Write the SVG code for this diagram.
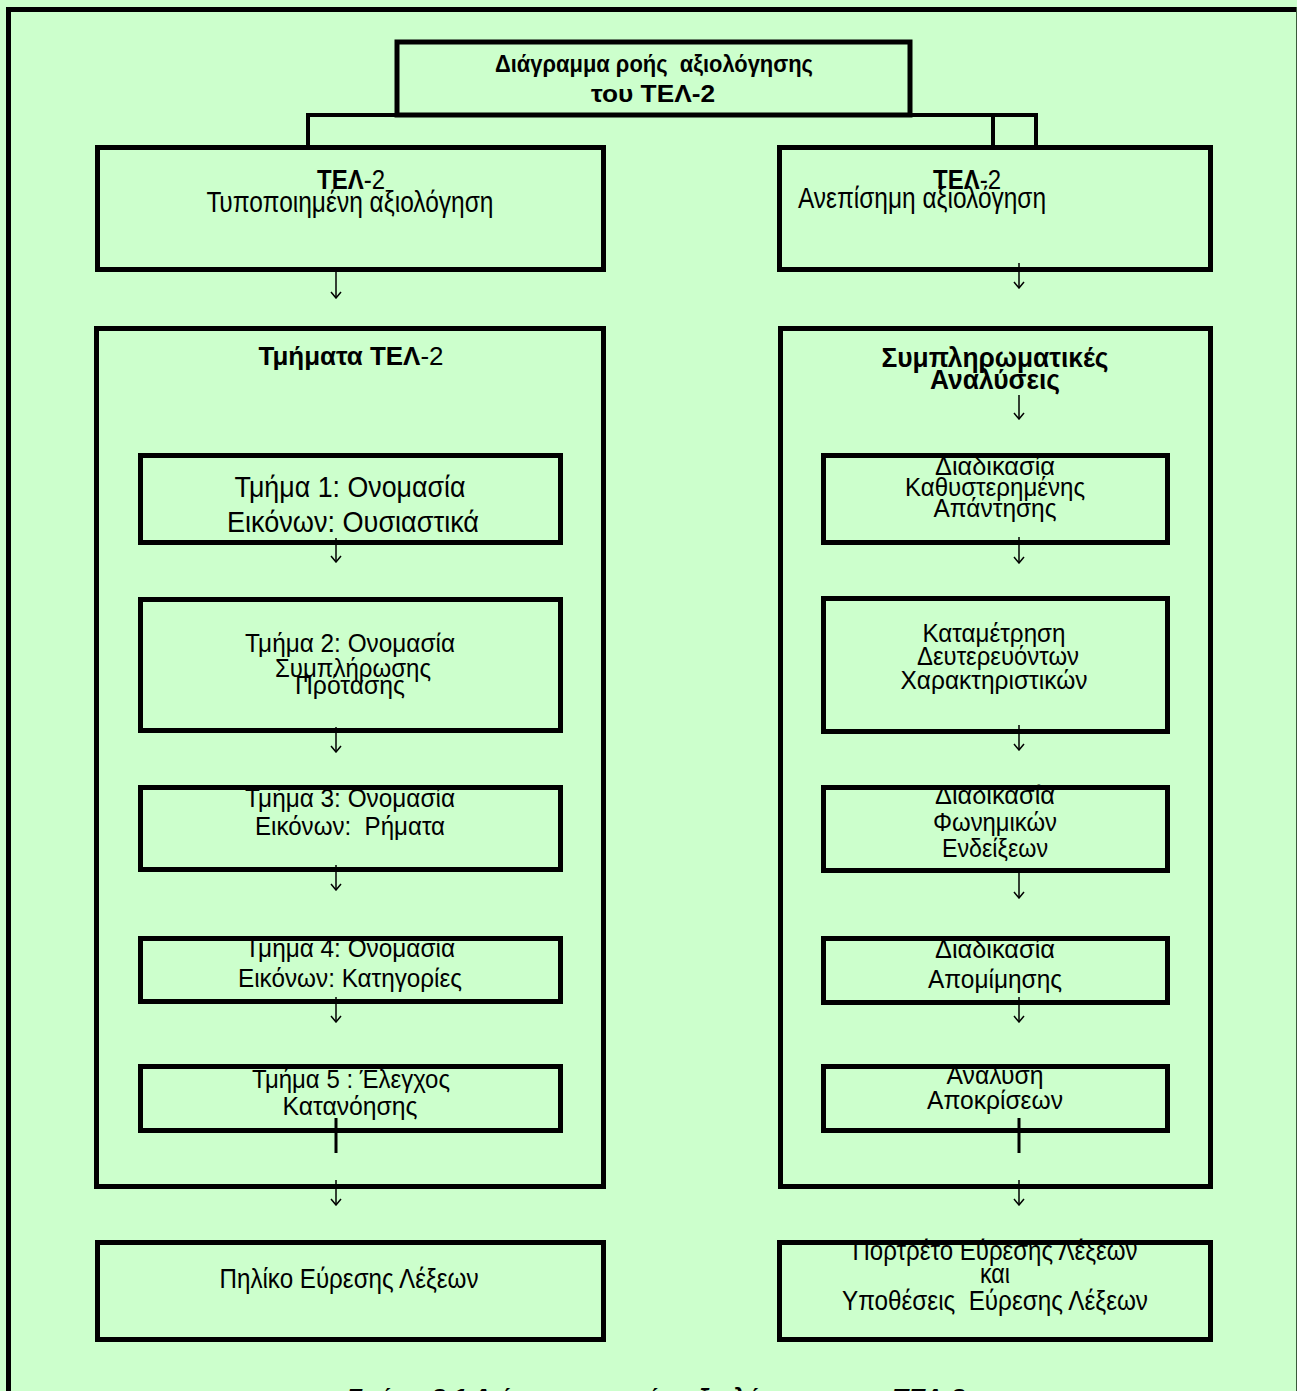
<svg xmlns="http://www.w3.org/2000/svg" width="1297" height="1391" viewBox="0 0 1297 1391">
<style>
text{font-family:"Liberation Sans","Noto Sans",Arial,sans-serif;fill:#000;text-anchor:middle}
.b{font-weight:bold}
.n{font-weight:normal}
.box{fill:none;stroke:#000;stroke-width:5}
.c{stroke:#000;stroke-width:1.5;fill:none}
.t{stroke:#000;stroke-width:3;fill:none}
.f24{font-size:26px}
.f26{font-size:28px}
.f27{font-size:29px}
</style>
<defs>
<marker id="ah" viewBox="0 0 10 12" refX="9" refY="6" markerWidth="10" markerHeight="12" markerUnits="userSpaceOnUse" orient="auto">
<polyline points="3,1 9,6 3,11" fill="none" stroke="#000" stroke-width="1.5"/>
</marker>
</defs>
<rect x="0" y="0" width="1297" height="1391" fill="#CCFFCC"/>
<g id="frame">
<path d="M8.5,1391 V9.5 H1297" fill="none" stroke="#000" stroke-width="5"/>
<line x1="1296.5" y1="7" x2="1296.5" y2="1391" stroke="#3a5a3a" stroke-width="1"/>
</g>

<g id="title">
<text class="b" x="654" y="72" font-size="23" textLength="318" lengthAdjust="spacingAndGlyphs" xml:space="preserve">Διάγραμμα ροής  αξιολόγησης</text>
<text class="b" x="653" y="102" font-size="23" textLength="124" lengthAdjust="spacingAndGlyphs">του ΤΕΛ-2</text>
<rect class="box" x="397" y="42" width="513" height="73" stroke-width="4"/>
</g>

<g id="standard">
<text class="b f26" x="351" y="189" textLength="68" lengthAdjust="spacingAndGlyphs">ΤΕΛ<tspan class="n">-2</tspan></text>
<text class="f27" x="350" y="212" textLength="287" lengthAdjust="spacingAndGlyphs">Τυποποιημένη αξιολόγηση</text>
<rect class="box" x="97.5" y="147.5" width="506" height="122"/>
</g>

<g id="informal">
<text class="b f26" x="967" y="189" textLength="68" lengthAdjust="spacingAndGlyphs">ΤΕΛ<tspan class="n">-2</tspan></text>
<text class="f27" x="922" y="208" textLength="248" lengthAdjust="spacingAndGlyphs">Ανεπίσημη αξιολόγηση</text>
<rect class="box" x="779.5" y="147.5" width="431" height="122"/>
</g>

<g id="sections">
<text class="b" x="351" y="365" font-size="26" textLength="185" lengthAdjust="spacingAndGlyphs">Τμήματα ΤΕΛ<tspan class="n">-2</tspan></text>
<rect class="box" x="96.5" y="328.5" width="507" height="858"/>
</g>

<g id="supplementary">
<text class="b" font-size="28" x="995" y="367" textLength="227" lengthAdjust="spacingAndGlyphs">Συμπληρωματικές</text>
<text class="b" font-size="28" x="995" y="389" textLength="130" lengthAdjust="spacingAndGlyphs">Αναλύσεις</text>
<rect class="box" x="780.5" y="328.5" width="430" height="858"/>
</g>

<g id="part1">
<text class="f27" x="350" y="497" textLength="231" lengthAdjust="spacingAndGlyphs">Τμήμα 1: Ονομασία</text>
<text class="f27" x="353" y="532" textLength="252" lengthAdjust="spacingAndGlyphs">Εικόνων: Ουσιαστικά</text>
<rect class="box" x="140.5" y="455.5" width="420" height="87"/>
</g>

<g id="part2">
<text class="f24" x="350" y="652" textLength="210" lengthAdjust="spacingAndGlyphs">Τμήμα 2: Ονομασία</text>
<text class="f24" x="353" y="677" textLength="156" lengthAdjust="spacingAndGlyphs">Συμπλήρωσης</text>
<text class="f24" x="350" y="694" textLength="110" lengthAdjust="spacingAndGlyphs">Πρότασης</text>
<rect class="box" x="140.5" y="599.5" width="420" height="131"/>
</g>

<g id="part3">
<text class="f24" x="350" y="807" textLength="210" lengthAdjust="spacingAndGlyphs">Τμήμα 3: Ονομασία</text>
<text class="f24" x="350" y="835" textLength="190" lengthAdjust="spacingAndGlyphs" xml:space="preserve">Εικόνων:  Ρήματα</text>
<rect class="box" x="140.5" y="787.5" width="420" height="82"/>
</g>

<g id="part4">
<text class="f24" x="350" y="957" textLength="210" lengthAdjust="spacingAndGlyphs">Τμήμα 4: Ονομασία</text>
<text class="f24" x="350" y="987" textLength="224" lengthAdjust="spacingAndGlyphs">Εικόνων: Κατηγορίες</text>
<rect class="box" x="140.5" y="938.5" width="420" height="63"/>
</g>

<g id="part5">
<text class="f24" x="351" y="1088" textLength="198" lengthAdjust="spacingAndGlyphs">Τμήμα 5 : Έλεγχος</text>
<text class="f24" x="350" y="1115" textLength="135" lengthAdjust="spacingAndGlyphs">Κατανόησης</text>
<rect class="box" x="140.5" y="1066.5" width="420" height="64"/>
</g>

<g id="delayed">
<text class="f24" x="995" y="475" textLength="120" lengthAdjust="spacingAndGlyphs">Διαδικασία</text>
<text class="f24" x="995" y="496" textLength="180" lengthAdjust="spacingAndGlyphs">Καθυστερημένης</text>
<text class="f24" x="995" y="517" textLength="123" lengthAdjust="spacingAndGlyphs">Απάντησης</text>
<rect class="box" x="823.5" y="455.5" width="344" height="87"/>
</g>

<g id="secondary">
<text class="f24" x="994" y="642" textLength="143" lengthAdjust="spacingAndGlyphs">Καταμέτρηση</text>
<text class="f24" x="998" y="665" textLength="162" lengthAdjust="spacingAndGlyphs">Δευτερευόντων</text>
<text class="f24" x="994" y="689" textLength="187" lengthAdjust="spacingAndGlyphs">Χαρακτηριστικών</text>
<rect class="box" x="823.5" y="598.5" width="344" height="133"/>
</g>

<g id="phonemic">
<text class="f24" x="995" y="804" textLength="120" lengthAdjust="spacingAndGlyphs">Διαδικασία</text>
<text class="f24" x="995" y="831" textLength="124" lengthAdjust="spacingAndGlyphs">Φωνημικών</text>
<text class="f24" x="995" y="857" textLength="106" lengthAdjust="spacingAndGlyphs">Ενδείξεων</text>
<rect class="box" x="823.5" y="787.5" width="344" height="83"/>
</g>

<g id="imitation">
<text class="f24" x="995" y="958" textLength="120" lengthAdjust="spacingAndGlyphs">Διαδικασία</text>
<text class="f24" x="995" y="988" textLength="134" lengthAdjust="spacingAndGlyphs">Απομίμησης</text>
<rect class="box" x="823.5" y="938.5" width="344" height="64"/>
</g>

<g id="responses">
<text class="f24" x="995" y="1084" textLength="97" lengthAdjust="spacingAndGlyphs">Ανάλυση</text>
<text class="f24" x="995" y="1109" textLength="136" lengthAdjust="spacingAndGlyphs">Αποκρίσεων</text>
<rect class="box" x="823.5" y="1066.5" width="344" height="64"/>
</g>

<g id="quotient">
<text class="f26" x="349" y="1288" textLength="259" lengthAdjust="spacingAndGlyphs">Πηλίκο Εύρεσης Λέξεων</text>
<rect class="box" x="97.5" y="1242.5" width="506" height="97"/>
</g>

<g id="portrait">
<text class="f26" x="995" y="1260" textLength="285" lengthAdjust="spacingAndGlyphs">Πορτρέτο Εύρεσης Λέξεων</text>
<text class="f26" x="995" y="1283" textLength="30" lengthAdjust="spacingAndGlyphs">και</text>
<text class="f26" x="995" y="1310" textLength="306" lengthAdjust="spacingAndGlyphs" xml:space="preserve">Υποθέσεις  Εύρεσης Λέξεων</text>
<rect class="box" x="779.5" y="1242.5" width="431" height="97"/>
</g>

<g id="connectors">
<path d="M308,147 V115 H1036 V147 M993,115 V147" fill="none" stroke="#000" stroke-width="4"/>
<line class="c" x1="336" y1="272" x2="336" y2="298" marker-end="url(#ah)"/>
<line class="c" x1="1019" y1="263" x2="1019" y2="288" marker-end="url(#ah)"/>
<line class="c" x1="1019" y1="395" x2="1019" y2="419" marker-end="url(#ah)"/>
<line class="c" x1="336" y1="538" x2="336" y2="562" marker-end="url(#ah)"/>
<line class="c" x1="336" y1="727" x2="336" y2="752" marker-end="url(#ah)"/>
<line class="c" x1="336" y1="865" x2="336" y2="890" marker-end="url(#ah)"/>
<line class="c" x1="336" y1="997" x2="336" y2="1022" marker-end="url(#ah)"/>
<line class="t" x1="336" y1="1118" x2="336" y2="1153"/>
<line class="c" x1="336" y1="1180" x2="336" y2="1205" marker-end="url(#ah)"/>
<line class="c" x1="1019" y1="537" x2="1019" y2="563" marker-end="url(#ah)"/>
<line class="c" x1="1019" y1="725" x2="1019" y2="750" marker-end="url(#ah)"/>
<line class="c" x1="1019" y1="873" x2="1019" y2="898" marker-end="url(#ah)"/>
<line class="c" x1="1019" y1="997" x2="1019" y2="1022" marker-end="url(#ah)"/>
<line class="t" x1="1019" y1="1118" x2="1019" y2="1153"/>
<line class="c" x1="1019" y1="1180" x2="1019" y2="1205" marker-end="url(#ah)"/>
</g>

<text class="b" x="347" y="1404" font-size="22" font-style="italic" style="text-anchor:start" textLength="618" lengthAdjust="spacingAndGlyphs">Σχήμα 2.1 Διάγραμμα ροής αξιολόγησης του ΤΕΛ-2</text>
</svg>
